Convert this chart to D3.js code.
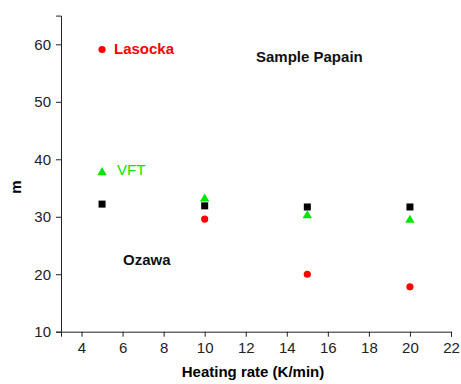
<!DOCTYPE html>
<html>
<head>
<meta charset="utf-8">
<script src="https://cdn.jsdelivr.net/npm/d3@7"></script>
<style>
  body { margin: 0; background: #fff; }
  svg text { font-family: "Liberation Sans", Arial, sans-serif; }
</style>
</head>
<body>
<div id="chart"></div>
<script>
// heating rates (K/min)
var rates = [5, 10, 15, 20];
// m values per method
var ozawa   = [32.2, 31.9, 31.7, 31.7];
var vft     = [37.8, 33.2, 30.3, 29.5];
var lasocka = [59.1, 29.6, 20.0, 17.8];
var xTicks = [4, 6, 8, 10, 12, 14, 16, 18, 20, 22];
var yTicks = [10, 20, 30, 40, 50, 60];

var width = 461, height = 384;
var svg = d3.select("#chart").append("svg")
    .attr("width", width)
    .attr("height", height);

var x = d3.scaleLinear().domain([3, 22]).range([61, 451]);
var y = d3.scaleLinear().domain([10, 65]).range([331.7, 15.6]);

// minor ticks
var xMinor = d3.range(3, 22.01, 1).filter(function(v){ return v % 2 != 0; });
var yMinor = d3.range(15, 65.01, 10);

var gx = svg.append("g").attr("transform", "translate(0," + y(10) + ")");
gx.call(d3.axisBottom(x).tickValues(xMinor).tickSize(3).tickFormat(""));
gx.call(d3.axisBottom(x).tickValues(xTicks).tickSize(5).tickPadding(6).tickFormat(d3.format("d")));

var gy = svg.append("g").attr("transform", "translate(" + x(3) + ",0)");
gy.call(d3.axisLeft(y).tickValues(yMinor).tickSize(3).tickFormat(""));
gy.call(d3.axisLeft(y).tickValues(yTicks).tickSize(5).tickPadding(5).tickFormat(d3.format("d")));

svg.selectAll(".domain").attr("stroke", "#222");
svg.selectAll(".tick line").attr("stroke", "#222");
svg.selectAll(".tick text")
    .style("font-family", "'Liberation Sans', Arial, sans-serif")
    .style("font-size", "15px")
    .attr("fill", "#222");

// axis titles
svg.append("text")
    .attr("x", 253).attr("y", 377)
    .attr("text-anchor", "middle")
    .style("font-weight", "bold").style("font-size", "15px")
    .text("Heating rate (K/min)");

svg.append("text")
    .attr("transform", "translate(21,187) rotate(-90)")
    .attr("text-anchor", "middle")
    .style("font-weight", "bold").style("font-size", "15px")
    .text("m");

// markers
svg.selectAll(".sq").data(rates).enter().append("rect")
    .attr("x", function(d){ return x(d) - 3.5; })
    .attr("y", function(d, i){ return y(ozawa[i]) - 3.5; })
    .attr("width", 7).attr("height", 7)
    .attr("fill", "#000");

var tri = d3.symbol().type(d3.symbolTriangle).size(38);
svg.selectAll(".tri").data(rates).enter().append("path")
    .attr("d", tri)
    .attr("transform", function(d, i){ return "translate(" + x(d) + "," + (y(vft[i]) + 0.5) + ")"; })
    .attr("fill", "#00e600");

svg.selectAll(".dot").data(rates).enter().append("circle")
    .attr("cx", function(d){ return x(d); })
    .attr("cy", function(d, i){ return y(lasocka[i]); })
    .attr("r", 3.6)
    .attr("fill", "#ff0000");

// annotations
svg.append("text").attr("x", 114).attr("y", 54)
    .attr("fill", "#ff0000")
    .style("font-weight", "bold").style("font-size", "15px")
    .text("Lasocka");

svg.append("text").attr("x", 117).attr("y", 175)
    .attr("fill", "#00e600")
    .style("font-size", "15px")
    .text("VFT");

svg.append("text").attr("x", 123).attr("y", 265)
    .attr("fill", "#111")
    .style("font-weight", "bold").style("font-size", "15px")
    .text("Ozawa");

svg.append("text").attr("x", 256).attr("y", 62)
    .attr("fill", "#111")
    .style("font-weight", "bold").style("font-size", "15px")
    .text("Sample Papain");
</script>
</body>
</html>
